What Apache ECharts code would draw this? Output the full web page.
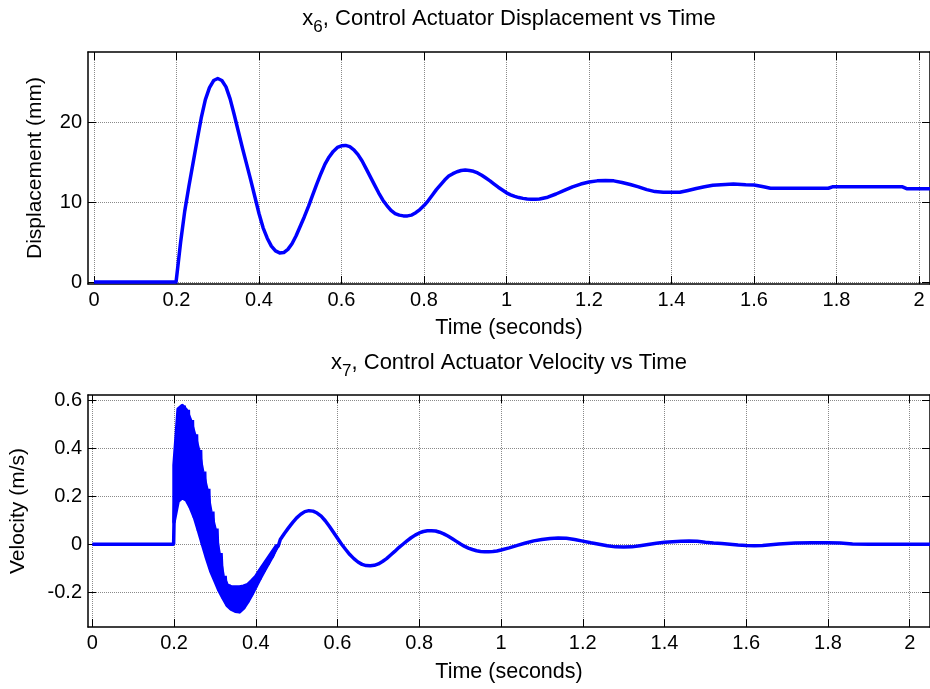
<!DOCTYPE html>
<html><head><meta charset="utf-8">
<script src="https://cdn.jsdelivr.net/npm/echarts@6/dist/echarts.min.js"></script>
<style>html,body{margin:0;padding:0;background:#fff}#c{width:930px;height:689px}</style>
</head><body><div id="c"></div>
<script>
// ---- tick labels ----
const xTicks = [0, 0.2, 0.4, 0.6, 0.8, 1, 1.2, 1.4, 1.6, 1.8, 2];
const dispTicks = [0, 10, 20];
const velTicks = [-0.2, 0, 0.2, 0.4, 0.6];

// ---- x6 displacement (mm) ----
const dispT = [0, 0.199, 0.20, 0.21, 0.22, 0.23, 0.24, 0.25, 0.26, 0.27, 0.28, 0.29, 0.30, 0.31, 0.32, 0.33, 0.34, 0.35, 0.36, 0.37, 0.38, 0.39,
  0.40, 0.41, 0.42, 0.43, 0.44, 0.45, 0.46, 0.47, 0.48, 0.49, 0.50, 0.51, 0.52, 0.53, 0.54, 0.55, 0.56, 0.57, 0.58, 0.59,
  0.60, 0.61, 0.62, 0.63, 0.64, 0.65, 0.66, 0.67, 0.68, 0.69, 0.70, 0.71, 0.72, 0.73, 0.74, 0.75, 0.76, 0.77, 0.78, 0.79,
  0.80, 0.81, 0.82, 0.83, 0.84, 0.85, 0.86, 0.87, 0.88, 0.89, 0.90, 0.91, 0.92, 0.93, 0.94, 0.95, 0.96, 0.97, 0.98, 0.99,
  1.00, 1.01, 1.02, 1.03, 1.04, 1.05, 1.06, 1.07, 1.08, 1.10, 1.12, 1.14, 1.16, 1.18, 1.20, 1.22, 1.24, 1.26, 1.28, 1.30,
  1.32, 1.34, 1.36, 1.38, 1.40, 1.42, 1.44, 1.46, 1.48, 1.50, 1.52, 1.55, 1.58, 1.60, 1.62, 1.64, 1.70, 1.78, 1.79, 1.96, 1.97, 2.03];
const dispV = [0, 0, 0, 5.0, 8.9, 12.0, 14.9, 17.8, 20.6, 22.9, 24.4, 25.3, 25.55, 25.3, 24.5, 23.0, 21.0, 18.9, 16.8, 14.8, 12.8, 10.7,
  8.6, 6.8, 5.5, 4.5, 3.9, 3.65, 3.7, 4.1, 4.8, 5.8, 7.0, 8.2, 9.5, 10.9, 12.3, 13.6, 14.8, 15.7, 16.4, 16.9,
  17.1, 17.15, 17.0, 16.6, 16.0, 15.2, 14.2, 13.2, 12.2, 11.2, 10.3, 9.6, 9.0, 8.6, 8.4, 8.3, 8.3, 8.4, 8.7, 9.1,
  9.6, 10.2, 10.9, 11.6, 12.2, 12.8, 13.3, 13.6, 13.85, 14.0, 14.05, 14.0, 13.9, 13.7, 13.4, 13.05, 12.7, 12.3, 11.9, 11.55,
  11.2, 10.95, 10.75, 10.6, 10.5, 10.42, 10.4, 10.4, 10.42, 10.65, 11.05, 11.5, 11.95, 12.3, 12.55, 12.7, 12.75, 12.7, 12.5, 12.25,
  11.95, 11.6, 11.35, 11.27, 11.27, 11.27, 11.5, 11.75, 11.97, 12.15, 12.2, 12.3, 12.2, 12.19, 12.0, 11.77, 11.77, 11.77, 11.95, 11.95, 11.72, 11.72];

// ---- x7 velocity (m/s) ----
const velPreT = [0, 0.199];
const velPreV = [0, 0];
// chattering band: upper and lower envelopes (line centres)
const chatT = [0.20, 0.21, 0.22, 0.23, 0.24, 0.25, 0.26, 0.27, 0.28, 0.29, 0.30, 0.31, 0.32, 0.33, 0.34, 0.35, 0.36, 0.37, 0.38, 0.39, 0.40, 0.41, 0.42, 0.43, 0.44, 0.45];
const chatHi = [0.33, 0.563, 0.578, 0.560, 0.518, 0.458, 0.393, 0.303, 0.231, 0.136, 0.065, -0.037, -0.132, -0.170, -0.178, -0.178, -0.178, -0.175, -0.169, -0.152, -0.134, -0.107, -0.082, -0.057, -0.032, -0.007];
const chatLo = [0.093, 0.179, 0.194, 0.185, 0.153, 0.111, 0.055, -0.003, -0.060, -0.113, -0.153, -0.193, -0.225, -0.255, -0.271, -0.279, -0.282, -0.267, -0.241, -0.211, -0.178, -0.145, -0.113, -0.083, -0.053, -0.018];
const velT = [0.46, 0.47, 0.48, 0.49, 0.50, 0.51, 0.52, 0.53, 0.54, 0.55, 0.56, 0.57, 0.58, 0.59, 0.60, 0.61, 0.62, 0.63, 0.64, 0.65, 0.66, 0.67, 0.68, 0.69,
  0.70, 0.71, 0.72, 0.73, 0.74, 0.75, 0.76, 0.77, 0.78, 0.79, 0.80, 0.81, 0.82, 0.83, 0.84, 0.85, 0.86, 0.87, 0.88, 0.89,
  0.90, 0.91, 0.92, 0.93, 0.94, 0.95, 0.96, 0.97, 0.98, 0.99, 1.00, 1.02, 1.04, 1.06, 1.08, 1.10, 1.12, 1.14, 1.16, 1.18,
  1.20, 1.22, 1.24, 1.26, 1.28, 1.30, 1.32, 1.34, 1.36, 1.38, 1.40, 1.42, 1.44, 1.46, 1.48, 1.50, 1.52, 1.54, 1.56, 1.58,
  1.60, 1.62, 1.64, 1.66, 1.68, 1.70, 1.72, 1.76, 1.80, 1.83, 1.86, 1.90, 1.95, 2.00, 2.05];
const velV = [0.02, 0.045, 0.068, 0.09, 0.11, 0.125, 0.136, 0.14, 0.138, 0.13, 0.117, 0.098, 0.075, 0.05, 0.025, 0.0, -0.022, -0.043, -0.06, -0.074, -0.084, -0.089, -0.09, -0.088,
  -0.082, -0.072, -0.06, -0.045, -0.03, -0.014, 0.0, 0.014, 0.027, 0.038, 0.047, 0.053, 0.056, 0.056, 0.055, 0.05, 0.043, 0.034, 0.024, 0.013,
  0.002, -0.008, -0.016, -0.022, -0.027, -0.03, -0.031, -0.031, -0.03, -0.028, -0.024, -0.015, -0.005, 0.005, 0.014, 0.02, 0.024, 0.026, 0.025, 0.02,
  0.013, 0.006, 0.0, -0.006, -0.011, -0.012, -0.011, -0.006, -0.001, 0.004, 0.008, 0.01, 0.012, 0.013, 0.012, 0.008, 0.005, 0.003, 0.0, -0.003,
  -0.005, -0.006, -0.005, -0.002, 0.001, 0.003, 0.005, 0.006, 0.006, 0.005, 0.001, 0.0, 0.0, 0.0, 0.0];

// ---- build series data ----
const dispData = dispT.map((t, i) => [t, dispV[i]]);
const velData = velPreT.map((t, i) => [t, velPreV[i]]);
chatT.forEach((t, i) => { velData.push([t, chatLo[i]]); velData.push([t + 0.005, chatHi[i]]); });
velT.forEach((t, i) => velData.push([t, velV[i]]));
const bandData = chatT.map((t, i) => [t, chatHi[i], chatLo[i]]);

const FONT = 'Liberation Sans, Arial, Helvetica, sans-serif';
const fmt = v => String(+(+v).toFixed(2));
const BLUE = '#0000ff';

function xAx(gi, min, max, pos, name, nameGap) {
  const main = pos === 'bottom';
  return {
    type: 'value', gridIndex: gi, position: pos, min: min, max: max,
    name: main ? name : '', nameLocation: 'middle', nameGap: nameGap,
    nameTextStyle: { fontFamily: FONT, fontSize: 21.5, color: '#000' },
    axisLine: { show: true, onZero: false, lineStyle: { color: '#000', width: 1.5 } },
    axisTick: { show: true, inside: true, length: 8, customValues: xTicks, lineStyle: { color: '#000', width: 1 } },
    axisLabel: { show: main, customValues: xTicks, formatter: fmt, margin: 6, fontFamily: FONT, fontSize: 20, color: '#000' },
    splitLine: { show: main, lineStyle: { color: '#8a8a8a', type: [1, 1], width: 1 } }
  };
}
function yAx(gi, min, max, pos, ticks, name, nameGap) {
  const main = pos === 'left';
  return {
    type: 'value', gridIndex: gi, position: pos, min: min, max: max,
    name: main ? name : '', nameLocation: 'middle', nameGap: nameGap,
    nameTextStyle: { fontFamily: FONT, fontSize: 21, color: '#000' },
    axisLine: { show: true, onZero: false, lineStyle: { color: '#000', width: 1.5 } },
    axisTick: { show: true, inside: true, length: 8, customValues: ticks, lineStyle: { color: '#000', width: 1 } },
    axisLabel: { show: main, customValues: ticks, formatter: fmt, margin: 6, fontFamily: FONT, fontSize: 20, color: '#000' },
    splitLine: { show: main, lineStyle: { color: '#8a8a8a', type: [1, 1], width: 1 } }
  };
}
function titleCfg(main, sub, top) {
  return { text: 'x{s|' + sub + '}' + main, left: 509, top: top, textAlign: 'center', padding: 0,
    textStyle: { fontFamily: FONT, fontSize: 22, fontWeight: 'normal', color: '#000',
      rich: { s: { fontFamily: FONT, fontSize: 17, color: '#000', padding: [18, 0, 0, 0] } } } };
}

const chart = echarts.init(document.getElementById('c'), null, { renderer: 'canvas' });
chart.setOption({
  animation: false,
  backgroundColor: '#fff',
  title: [
    titleCfg(', Control Actuator Displacement vs Time', '6', 1),
    titleCfg(', Control Actuator Velocity vs Time', '7', 345)
  ],
  grid: [
    { left: 88, top: 52, width: 843, height: 232, containLabel: false },
    { left: 88, top: 395, width: 843, height: 232, containLabel: false }
  ],
  xAxis: [
    xAx(0, -0.0145, 2.0266, 'bottom', 'Time (seconds)', 33),
    xAx(0, -0.0145, 2.0266, 'top', '', 0),
    xAx(1, -0.0105, 2.0496, 'bottom', 'Time (seconds)', 34),
    xAx(1, -0.0105, 2.0496, 'top', '', 0)
  ],
  yAxis: [
    yAx(0, -0.25, 28.88, 'left', dispTicks, 'Displacement (mm)', 42),
    yAx(0, -0.25, 28.88, 'right', dispTicks, '', 0),
    yAx(1, -0.345, 0.622, 'left', velTicks, 'Velocity (m/s)', 59),
    yAx(1, -0.345, 0.622, 'right', velTicks, '', 0)
  ],
  series: [
    { type: 'line', xAxisIndex: 0, yAxisIndex: 0, data: dispData, showSymbol: false, symbol: 'none',
      lineStyle: { color: BLUE, width: 3.5, join: 'round' }, clip: true },
    { type: 'custom', xAxisIndex: 2, yAxisIndex: 2, data: [bandData[0]], clip: true, silent: true,
      renderItem: function (params, api) {
        const pts = [];
        bandData.forEach(d => pts.push(api.coord([d[0], d[1]])));
        for (let i = bandData.length - 1; i >= 0; i--) pts.push(api.coord([bandData[i][0], bandData[i][2]]));
        return { type: 'polygon', shape: { points: pts },
          style: { fill: BLUE, stroke: BLUE, lineWidth: 3.5, lineJoin: 'round' } };
      } },
    { type: 'line', xAxisIndex: 2, yAxisIndex: 2, data: velData, showSymbol: false, symbol: 'none',
      lineStyle: { color: BLUE, width: 3.5, join: 'bevel' }, clip: true }
  ]
});
</script></body></html>
